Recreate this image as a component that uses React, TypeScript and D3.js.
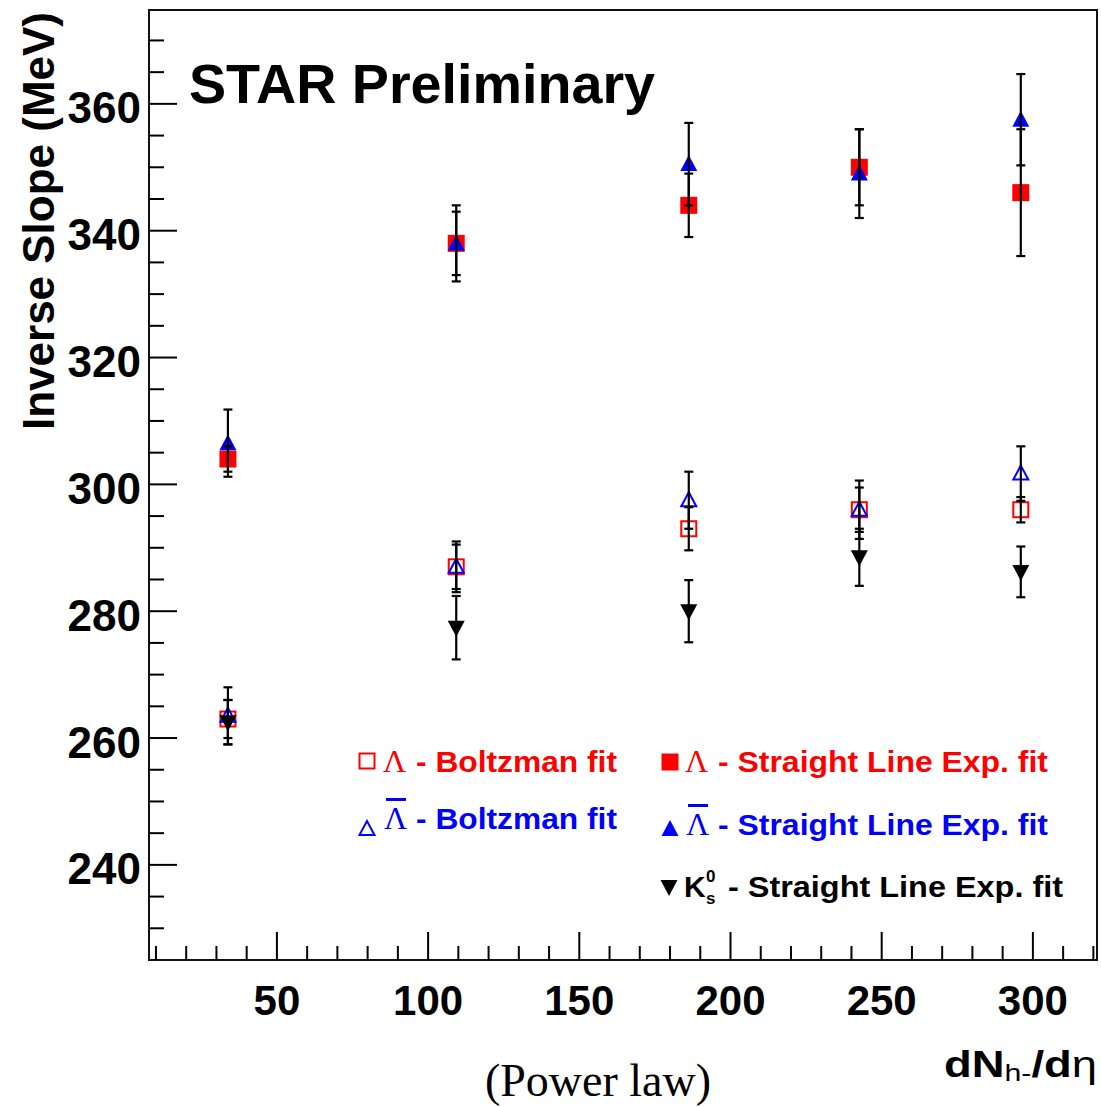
import React from "react";
import * as d3 from "d3";

const xVals = [33.8, 109.3, 186.2, 242.6, 296];

const lamSL = [304, 338, 344, 350, 346];
const lamSLErr = [2, 5, 5, 6, 10];
const barSL = [306.5, 338, 350.5, 349, 357.5];
const barSLErr = [5.3, 6, 6.5, 7, 7.2];
const lamBz = [263, 287, 293, 296, 296];
const lamBzErr = [3, 3.5, 3.4, 3.5, 2];
const barBz = [263.5, 287, 297.5, 296, 301.7];
const barBzErr = [4.5, 4, 4.5, 4.6, 4.3];
const k0SL = [262.5, 277.4, 280, 288.5, 286.2];
const k0SLErr = [3.5, 5, 4.9, 4.5, 4];

const xMajor = [50, 100, 150, 200, 250, 300];
const yMajor = [240, 260, 280, 300, 320, 340, 360];

const W = 1101;
const H = 1107;
const L = 149, R = 1097, T = 10, B = 960;

const x = d3.scaleLinear().domain([7.7, 321.2]).range([L, R]);
const y = d3.scaleLinear().domain([225, 374.8]).range([B, T]);

const RED = "#ff0000";
const BLUE = "#0000ff";
const SANS = "'Liberation Sans', Arial, Helvetica, sans-serif";
const SERIF = "'Liberation Serif', 'Times New Roman', serif";

type Kind = "sqFill" | "sqOpen" | "triFill" | "triOpen" | "triDown";

function Marker({ cx, cy, kind, color }: { cx: number; cy: number; kind: Kind; color: string }) {
  const s = 8.5;
  if (kind === "sqFill") return <rect x={cx - s} y={cy - s} width={2 * s} height={2 * s} fill={color} />;
  if (kind === "sqOpen")
    return <rect x={cx - s + 1} y={cy - s + 1} width={2 * s - 2} height={2 * s - 2} fill="none" stroke={color} strokeWidth={2} />;
  if (kind === "triFill" || kind === "triOpen") {
    const pts = `${cx},${cy - 9} ${cx - 8.5},${cy + 7} ${cx + 8.5},${cy + 7}`;
    return kind === "triFill" ? (
      <polygon points={pts} fill={color} />
    ) : (
      <polygon points={`${cx},${cy - 8} ${cx - 7.5},${cy + 6} ${cx + 7.5},${cy + 6}`} fill="none" stroke={color} strokeWidth={2} />
    );
  }
  const pts = `${cx},${cy + 9} ${cx - 8.5},${cy - 7} ${cx + 8.5},${cy - 7}`;
  return <polygon points={pts} fill={color} />;
}

const series: { vals: number[]; errs: number[]; kind: Kind; color: string }[] = [
  { vals: lamSL, errs: lamSLErr, kind: "sqFill", color: RED },
  { vals: barSL, errs: barSLErr, kind: "triFill", color: BLUE },
  { vals: lamBz, errs: lamBzErr, kind: "sqOpen", color: RED },
  { vals: barBz, errs: barBzErr, kind: "triOpen", color: BLUE },
  { vals: k0SL, errs: k0SLErr, kind: "triDown", color: "#000" },
];

export default function App() {
  const yMinor = d3.range(230, 375, 5).filter((v) => v % 20 !== 0);
  const xMinor = d3.range(10, 321, 10).filter((v) => v % 50 !== 0);

  return (
    <div style={{ position: "absolute", left: 0, top: 0 }}>
      <svg width={W} height={H} viewBox={`0 0 ${W} ${H}`} style={{ display: "block", background: "#fff" }}>
        <rect x={0} y={0} width={W} height={H} fill="#fff" />

        {series.map((s, si) =>
          s.vals.map((v, i) => <Marker key={`m${si}-${i}`} cx={x(xVals[i])} cy={y(v)} kind={s.kind} color={s.color} />)
        )}
        {series.map((s, si) =>
          s.vals.map((v, i) => {
            const cx = x(xVals[i]);
            const y1 = y(v + s.errs[i]);
            const y2 = y(v - s.errs[i]);
            return (
              <g key={`e${si}-${i}`} stroke="#000" strokeWidth={2.2}>
                <line x1={cx} x2={cx} y1={y1} y2={y2} />
                <line x1={cx - 4.5} x2={cx + 4.5} y1={y1} y2={y1} />
                <line x1={cx - 4.5} x2={cx + 4.5} y1={y2} y2={y2} />
              </g>
            );
          })
        )}

        <rect x={L} y={T} width={R - L} height={B - T} fill="none" stroke="#111" strokeWidth={2} />

        <g stroke="#000" strokeWidth={2}>
          {yMajor.map((v) => (
            <line key={`ym${v}`} x1={L} x2={L + 28} y1={y(v)} y2={y(v)} />
          ))}
          {yMinor.map((v) => (
            <line key={`yn${v}`} x1={L} x2={L + 15} y1={y(v)} y2={y(v)} />
          ))}
          {xMajor.map((v) => (
            <line key={`xm${v}`} x1={x(v)} x2={x(v)} y1={B} y2={B - 28} />
          ))}
          {xMinor.map((v) => (
            <line key={`xn${v}`} x1={x(v)} x2={x(v)} y1={B} y2={B - 14} />
          ))}
        </g>

        <g fontFamily={SANS} fontWeight="bold" fill="#000">
          {yMajor.map((v) => (
            <text key={`yl${v}`} x={141} y={y(v) + 19.5} fontSize={44} textAnchor="end">
              {v}
            </text>
          ))}
          {xMajor.map((v) => (
            <text key={`xl${v}`} x={x(v)} y={1015} fontSize={42} textAnchor="middle">
              {v}
            </text>
          ))}
        </g>

        <text
          transform="translate(54,12) rotate(-90)"
          fontFamily={SANS}
          fontWeight="bold"
          fontSize={44}
          textAnchor="end"
          textLength={418}
          lengthAdjust="spacingAndGlyphs"
        >
          Inverse Slope (MeV)
        </text>
        <text x={944} y={1077} fontFamily={SANS} fontWeight="bold" fontSize={36} textLength={153} lengthAdjust="spacingAndGlyphs">
          dN
          <tspan fontSize={24} dy={4} fontWeight="normal">
            h-
          </tspan>
          <tspan dy={-4}>/d</tspan>
          <tspan fontWeight="normal">η</tspan>
        </text>
        <text x={598} y={1096} fontFamily={SERIF} fontSize={46} textAnchor="middle">
          (Power law)
        </text>

        <text x={189} y={103} fontFamily={SANS} fontWeight="bold" fontSize={56} textLength={466} lengthAdjust="spacingAndGlyphs">
          STAR Preliminary
        </text>

        <g>
          <Marker cx={367} cy={761} kind="sqOpen" color={RED} />
          <text x={383} y={772} fontFamily={SERIF} fontSize={32} fill={RED}>Λ</text>
          <text x={416} y={772} fontFamily={SANS} fontWeight="bold" fontSize={30} fill={RED} textLength={201} lengthAdjust="spacingAndGlyphs">
            - Boltzman fit
          </text>

          <Marker cx={367} cy={829} kind="triOpen" color={BLUE} />
          <text x={384} y={829} fontFamily={SERIF} fontSize={32} fill={BLUE}>Λ</text>
          <rect x={386} y={798} width={20} height={3} fill={BLUE} />
          <text x={416} y={829} fontFamily={SANS} fontWeight="bold" fontSize={30} fill={BLUE} textLength={201} lengthAdjust="spacingAndGlyphs">
            - Boltzman fit
          </text>

          <Marker cx={670} cy={762} kind="sqFill" color={RED} />
          <text x={685} y={772} fontFamily={SERIF} fontSize={32} fill={RED}>Λ</text>
          <text x={718} y={772} fontFamily={SANS} fontWeight="bold" fontSize={30} fill={RED} textLength={330} lengthAdjust="spacingAndGlyphs">
            - Straight Line Exp. fit
          </text>

          <Marker cx={670} cy={829} kind="triFill" color={BLUE} />
          <text x={686} y={835} fontFamily={SERIF} fontSize={32} fill={BLUE}>Λ</text>
          <rect x={688} y={804} width={20} height={3} fill={BLUE} />
          <text x={718} y={835} fontFamily={SANS} fontWeight="bold" fontSize={30} fill={BLUE} textLength={330} lengthAdjust="spacingAndGlyphs">
            - Straight Line Exp. fit
          </text>

          <Marker cx={669} cy={887} kind="triDown" color="#000" />
          <text x={684} y={897} fontFamily={SANS} fontWeight="bold" fontSize={30} fill="#000">K</text>
          <text x={706} y={882} fontFamily={SANS} fontWeight="bold" fontSize={17} fill="#000">0</text>
          <text x={706} y={904} fontFamily={SANS} fontWeight="bold" fontSize={17} fill="#000">s</text>
          <text x={728} y={897} fontFamily={SANS} fontWeight="bold" fontSize={30} fill="#000" textLength={335} lengthAdjust="spacingAndGlyphs">
            - Straight Line Exp. fit
          </text>
        </g>
      </svg>
    </div>
  );
}
